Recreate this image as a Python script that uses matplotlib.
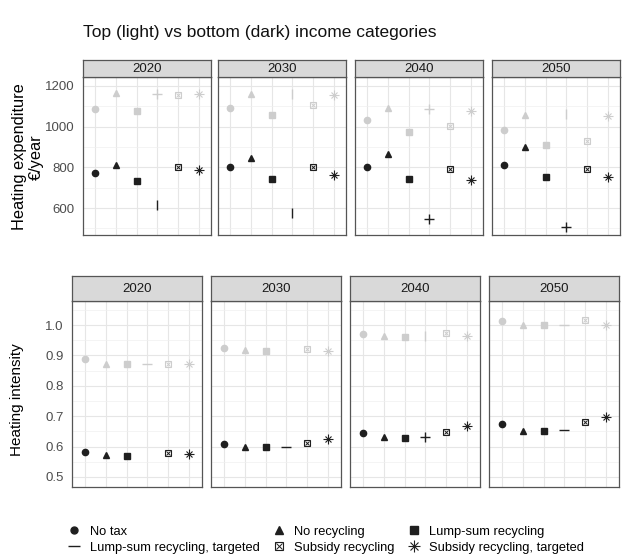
import matplotlib
matplotlib.use("Agg")
import matplotlib.pyplot as plt
import numpy as np
from matplotlib.lines import Line2D
from matplotlib.legend_handler import HandlerTuple

plt.rcParams["font.family"] = ["Liberation Sans", "DejaVu Sans"]

years = ["2020", "2030", "2040", "2050"]
scenarios = ["No tax", "No recycling", "Lump-sum recycling",
             "Lump-sum recycling, targeted", "Subsidy recycling",
             "Subsidy recycling, targeted"]

# heating expenditure, EUR/year, one row per year, one column per scenario
exp_top = [
    [1088, 1165, 1078, 1159, 1154, 1159],
    [1092, 1160, 1059, 1160, 1108, 1154],
    [1031, 1093, 974, 1088, 1003, 1077],
    [982, 1057, 909, 1061, 930, 1052],
]
exp_bottom = [
    [774, 813, 731, 614, 800, 787],
    [803, 847, 743, 575, 800, 762],
    [803, 864, 744, 545, 793, 738],
    [813, 901, 754, 509, 790, 754],
]

# heating intensity
int_top = [
    [0.887, 0.873, 0.873, 0.873, 0.873, 0.873],
    [0.925, 0.917, 0.914, np.nan, 0.920, 0.915],
    [0.970, 0.963, 0.962, 0.963, 0.974, 0.963],
    [1.013, 1.000, 1.000, 1.000, 1.018, 1.001],
]
int_bottom = [
    [0.582, 0.573, 0.570, np.nan, 0.578, 0.576],
    [0.610, 0.600, 0.600, 0.600, 0.611, 0.624],
    [0.645, 0.630, 0.627, 0.630, 0.647, 0.669],
    [0.675, 0.651, 0.651, 0.654, 0.682, 0.698],
]

DARK = "#1f1f1f"
LIGHT = "#cdcdcd"
W, H = 624, 554

fig = plt.figure(figsize=(W / 100, H / 100), dpi=100)


def ax_px(x0, y0, w, h):
    return fig.add_axes([x0 / W, 1 - (y0 + h) / H, w / W, h / H])


def draw_point(ax, x, y, k, color, m4):
    if np.isnan(y):
        return
    if k == 0:
        ax.plot(x, y, "o", ms=4.5, color=color, mec=color)
    elif k == 1:
        ax.plot(x, y, "^", ms=5, color=color, mec=color)
    elif k == 2:
        ax.plot(x, y, "s", ms=4.5, color=color, mec=color)
    elif k == 3:
        ax.plot(x, y, m4, ms=7, color=color, mew=1.0)
    elif k == 4:
        ax.plot(x, y, "s", ms=5, mfc="none", mec=color, mew=0.8)
        ax.plot(x, y, "x", ms=3.5, color=color, mew=0.7)
    else:
        ax.plot(x, y, "+", ms=7, color=color, mew=0.8)
        ax.plot(x, y, "x", ms=5, color=color, mew=0.8)


def style_panel(ax, year, ylim, major, minor, show_labels, fmt, strip_h, x0, y0, w):
    ax.set_xlim(0.4, 6.6)
    ax.set_ylim(*ylim)
    ax.set_xticks(range(1, 7))
    ax.set_xticklabels([])
    ax.set_yticks(major)
    ax.set_yticks(minor, minor=True)
    ax.grid(True, which="major", color="#e6e6e6", lw=0.8)
    ax.grid(True, which="minor", axis="y", color="#f0f0f0", lw=0.5)
    ax.set_axisbelow(True)
    ax.tick_params(axis="x", length=0)
    ax.tick_params(axis="y", which="both", length=0, labelsize=9.5,
                   labelcolor="#4d4d4d", pad=6)
    if show_labels:
        ax.set_yticklabels([fmt(v) for v in major])
    else:
        ax.set_yticklabels([])
    for s in ax.spines.values():
        s.set_color("#555555")
        s.set_linewidth(0.9)
    strip = ax_px(x0, y0 - strip_h, w, strip_h)
    strip.set_facecolor("#d9d9d9")
    strip.set_xticks([])
    strip.set_yticks([])
    for s in strip.spines.values():
        s.set_color("#555555")
        s.set_linewidth(0.9)
    strip.text(0.5, 0.5, year, ha="center", va="center", fontsize=9.5,
               color="#1a1a1a", transform=strip.transAxes)


# top block: expenditure
top_x = [83, 218, 355, 492]
top_m4_light = ["+", "|", "+", "|"]
top_m4_dark = ["|", "|", "+", "+"]
for i, year in enumerate(years):
    ax = ax_px(top_x[i], 77, 128, 158)
    style_panel(ax, year, (468, 1244), [600, 800, 1000, 1200],
                [500, 700, 900, 1100], i == 0, lambda v: f"{v:d}", 17,
                top_x[i], 77, 128)
    for k in range(6):
        draw_point(ax, k + 1, exp_top[i][k], k, LIGHT, top_m4_light[i])
        draw_point(ax, k + 1, exp_bottom[i][k], k, DARK, top_m4_dark[i])

# bottom block: intensity
bot_x = [72, 211, 350, 489]
bot_m4_light = ["_", "_", "|", "_"]
bot_m4_dark = ["_", "_", "+", "_"]
for i, year in enumerate(years):
    ax = ax_px(bot_x[i], 301, 130, 186)
    style_panel(ax, year, (0.467, 1.079), [0.5, 0.6, 0.7, 0.8, 0.9, 1.0],
                [0.55, 0.65, 0.75, 0.85, 0.95, 1.05], i == 0,
                lambda v: f"{v:.1f}", 25, bot_x[i], 301, 130)
    for k in range(6):
        draw_point(ax, k + 1, int_top[i][k], k, LIGHT, bot_m4_light[i])
        draw_point(ax, k + 1, int_bottom[i][k], k, DARK, bot_m4_dark[i])

fig.text(83 / W, 1 - 33 / H, "Top (light) vs bottom (dark) income categories",
         fontsize=12.5, ha="left", va="center", color="#111111")
fig.text(28 / W, 1 - 157 / H, "Heating expenditure\n€/year", rotation=90,
         fontsize=11.8, ha="center", va="center", linespacing=1.15)
fig.text(17 / W, 1 - 400 / H, "Heating intensity", rotation=90,
         fontsize=11, ha="center", va="center")

# legend
h = [
    Line2D([], [], marker="o", ls="none", ms=5, color=DARK),
    Line2D([], [], marker="^", ls="none", ms=6, color=DARK),
    Line2D([], [], marker="s", ls="none", ms=5.5, color=DARK),
    Line2D([], [], marker="_", ls="none", ms=8, color=DARK, mew=1),
    (Line2D([], [], marker="s", ls="none", ms=6, mfc="none", mec=DARK, mew=0.8),
     Line2D([], [], marker="x", ls="none", ms=4, color=DARK, mew=0.7)),
    (Line2D([], [], marker="+", ls="none", ms=8, color=DARK, mew=0.8),
     Line2D([], [], marker="x", ls="none", ms=6, color=DARK, mew=0.8)),
]
order = [0, 3, 1, 4, 2, 5]
fig.legend([h[j] for j in order], [scenarios[j] for j in order], ncol=3,
           loc="upper left", bbox_to_anchor=(56 / W, 1 - 514 / H),
           frameon=False, fontsize=9.3, handlelength=1.0, handletextpad=0.7,
           columnspacing=1.0, labelspacing=0.3,
           handler_map={tuple: HandlerTuple(ndivide=1, pad=0)})

fig.savefig("out.png", dpi=100)
